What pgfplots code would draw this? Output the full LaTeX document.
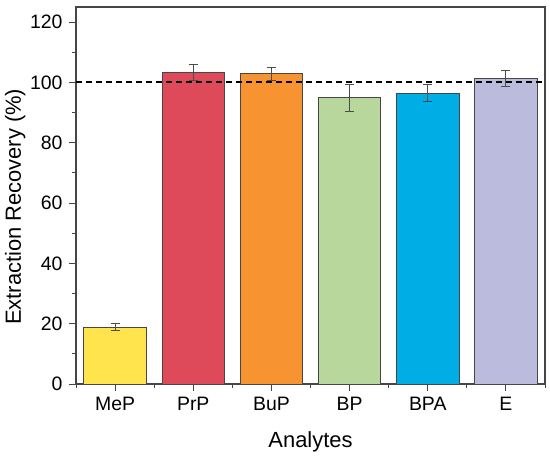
\documentclass[border=0pt]{standalone}
\usepackage{pgfplots}
\pgfplotsset{compat=1.18}
\usepackage{fontspec}
\setmainfont{Liberation Sans}
\definecolor{cMeP}{RGB}{255,228,77}
\definecolor{cPrP}{RGB}{223,74,91}
\definecolor{cBuP}{RGB}{247,147,48}
\definecolor{cBP}{RGB}{183,215,157}
\definecolor{cBPA}{RGB}{0,174,230}
\definecolor{cE}{RGB}{187,188,221}
\definecolor{edge}{RGB}{70,70,70}
\begin{document}
\begin{tikzpicture}
\useasboundingbox (-76bp,-72bp) rectangle (474bp,384bp);
\begin{axis}[
  at={(0,0)}, anchor=south west,
  scale only axis,
  width=469bp, height=377bp,
  xmin=-0.5, xmax=5.5, ymin=0, ymax=125,
  xtick={0,1,2,3,4,5},
  xticklabels={MeP,PrP,BuP,BP,BPA,E},
  minor xtick={-0.5,0.5,1.5,2.5,3.5,4.5,5.5},
  ytick={0,20,40,60,80,100,120},
  minor ytick={10,30,50,70,90,110},
  xtick pos=left, ytick pos=left,
  tick align=outside,
  major tick length=7bp, minor tick length=4bp,
  every tick/.style={edge, line width=1pt},
  axis line style={edge, line width=1.2pt},
  /pgf/number format/assume math mode=true,
  tick label style={font=\fontsize{19.5}{22}\selectfont, black},
  label style={font=\fontsize{22}{26}\selectfont, black},
  xlabel={Analytes},
  ylabel={Extraction Recovery (\%)},
  xlabel style={at={(axis description cs:0.5,0)}, anchor=base, yshift=-63bp},
  ylabel style={at={(axis description cs:-0.1173,0.47)}, anchor=base},
  yticklabel style={xshift=-3bp},
  xticklabel style={yshift=-3bp},
  error bars/error bar style={line width=0.9pt, black!70},
  error bars/error mark options={rotate=90, mark size=4.5bp, line width=0.9pt, black!70},
  clip=false,
]
\pgfplotsset{mybar/.style={ybar, bar width=0.8, bar shift=0pt, draw=edge, line width=0.9pt, fill=#1, error bars/.cd, y dir=both, y explicit}}
\addplot[mybar=cMeP] coordinates {(0,18.9) +- (0,1.1)};
\addplot[mybar=cPrP] coordinates {(1,103.3) +- (0,2.6)};
\addplot[mybar=cBuP] coordinates {(2,102.9) +- (0,2.2)};
\addplot[mybar=cBP] coordinates {(3,94.9) +- (0,4.4)};
\addplot[mybar=cBPA] coordinates {(4,96.4) +- (0,2.8)};
\addplot[mybar=cE] coordinates {(5,101.3) +- (0,2.7)};
\addplot[sharp plot, no markers, draw=black, line width=2pt, dash pattern=on 6bp off 4bp, forget plot] coordinates {(-0.5,100) (5.5,100)};
\end{axis}
\end{tikzpicture}
\end{document}
